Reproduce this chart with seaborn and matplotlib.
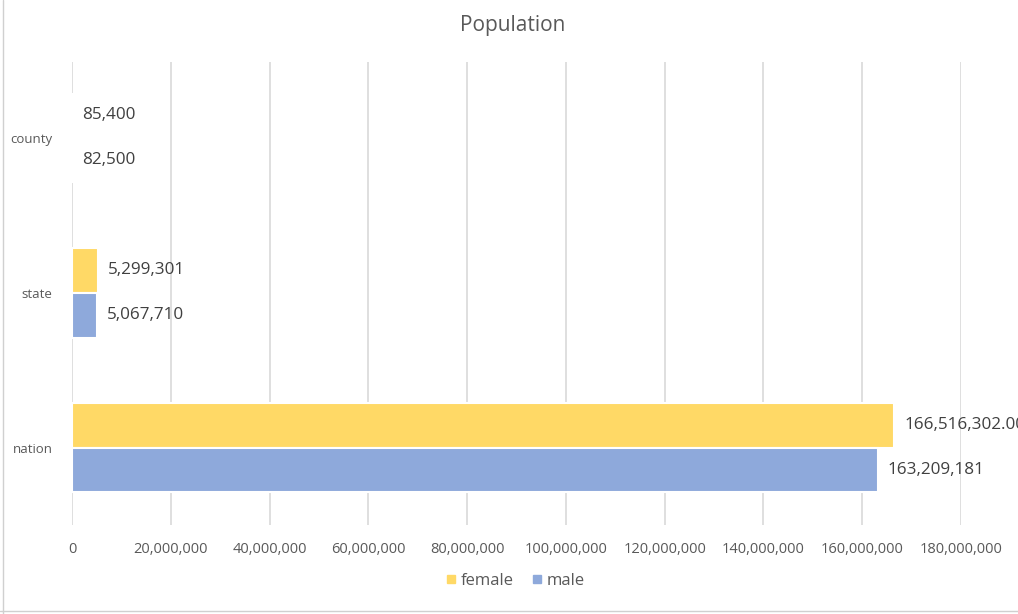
import matplotlib
matplotlib.use("Agg")
import matplotlib.pyplot as plt
import seaborn as sns
import pandas as pd
from matplotlib.lines import Line2D

categories = ["county", "state", "nation"]
series = ["female", "male"]
female = [85400, 5299301, 166516302]
male = [82500, 5067710, 163209181]
female_labels = ["85,400", "5,299,301", "166,516,302.00"]
male_labels = ["82,500", "5,067,710", "163,209,181"]
xticks = list(range(0, 180000001, 20000000))
colors = {"female": "#FFD966", "male": "#8EA9DB"}
text_color = "#595959"

df = pd.DataFrame({
    "region": categories * 2,
    "sex": ["female"] * 3 + ["male"] * 3,
    "value": female + male,
})

sns.set_theme(style="white")
plt.rcParams["font.family"] = ["Open Sans", "DejaVu Sans"]

fig = plt.figure(figsize=(10.18, 6.14), dpi=100)
ax = fig.add_axes([72 / 1018, 1 - 525 / 614, (961 - 72) / 1018, (525 - 62) / 614])

sns.barplot(data=df, y="region", x="value", hue="sex", order=categories,
            hue_order=series, palette=colors, orient="h", width=0.58,
            saturation=1, edgecolor="white", linewidth=1.5, ax=ax,
            legend=False, zorder=3)

ax.set_xlim(0, 180000000)
ax.set_ylim(2.5, -0.49)
ax.set_xticks(xticks)
ax.set_xticklabels([f"{v:,}" for v in xticks], fontsize=10.5, color=text_color)
ax.tick_params(axis="y", labelsize=9.5, colors=text_color, length=0, pad=14)
ax.tick_params(axis="x", length=0, pad=12)
ax.set_xlabel("")
ax.set_ylabel("")
ax.grid(axis="x", color="#D9D9D9", linewidth=1.2, zorder=0)
ax.set_axisbelow(True)
for s in ax.spines.values():
    s.set_visible(False)

for cont, labs in zip(ax.containers, [female_labels, male_labels]):
    ax.bar_label(cont, labels=labs, padding=7, fontsize=12.3, color="#404040")

fig.text(0.5 + 4 / 1018, 1 - 26 / 614, "Population", ha="center", va="center",
         fontsize=15, color=text_color)

handles = [Line2D([], [], marker="s", linestyle="none", markersize=5.5,
                  markerfacecolor=colors[s], markeredgecolor=colors[s], label=s)
           for s in series]
fig.legend(handles=handles, loc="center", bbox_to_anchor=(0.5 + 4 / 1018, 1 - 581 / 614),
           ncol=2, frameon=False, fontsize=12, labelcolor=text_color,
           handletextpad=0.0, columnspacing=0.8, handlelength=1.2)

# spreadsheet cell lines at edges
fig.add_artist(Line2D([3 / 1018, 3 / 1018], [0, 1], color="#D0D0D0", linewidth=1))
fig.add_artist(Line2D([0, 1], [1 - 611 / 614, 1 - 611 / 614], color="#D0D0D0", linewidth=1))

fig.savefig("out.png", dpi=100, facecolor="white")
